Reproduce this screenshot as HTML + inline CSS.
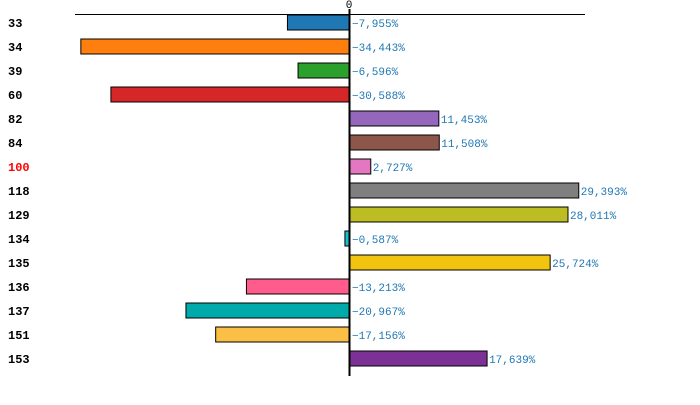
<!DOCTYPE html>
<html><head><meta charset="utf-8"><style>
body{margin:0;background:#fff;width:700px;height:405px;overflow:hidden}
svg{display:block}
.lab{font-family:"Liberation Mono",monospace;font-weight:bold;font-size:12px;fill:#000}
.val{font-family:"Liberation Mono",monospace;font-size:11px;fill:#1f77b4}
</style></head><body>
<svg id="chart" width="700" height="405">
<line x1="75" y1="14.5" x2="585" y2="14.5" stroke="#000"/>
<text x="349" y="8" text-anchor="middle" class="val" style="fill:#000">0</text>
<g id="bars"></g>
<line x1="349.5" y1="9" x2="349.5" y2="376" stroke="#000" stroke-width="2"/>
</svg>
<script>
const categories=["33","34","39","60","82","84","100","118","129","134","135","136","137","151","153"];
const values=[-7.955,-34.443,-6.596,-30.588,11.453,11.508,2.727,29.393,28.011,-0.587,25.724,-13.213,-20.967,-17.156,17.639];
const colors=["#1f77b4","#ff7f0e","#2ca02c","#d62728","#9467bd","#8c564b","#e377c2","#7f7f7f","#bcbd22","#17becf","#f1c40f","#ff5c8d","#00aaaa","#fbbf45","#7b3294"];
const x0=349.5,k=7.8;
const xs=v=>x0+v*k;
const ys=i=>15+24*i;
const g=document.getElementById('bars');
const NS="http://www.w3.org/2000/svg";
categories.forEach((c,i)=>{
  const v=values[i];
  const r=document.createElementNS(NS,'rect');
  const a=Math.min(xs(0),xs(v)),w=Math.abs(xs(v)-xs(0));
  r.setAttribute('x',a);r.setAttribute('y',ys(i));
  r.setAttribute('width',w);r.setAttribute('height',15);
  r.setAttribute('fill',colors[i]);r.setAttribute('stroke','#000');
  
  
  g.appendChild(r);
  const t=document.createElementNS(NS,'text');
  t.setAttribute('x',8);t.setAttribute('y',ys(i)+12);
  t.setAttribute('class','lab');
  if(c==="100")t.style.fill="#ff0000";
  t.textContent=c;
  
  
  g.appendChild(t);
  const l=document.createElementNS(NS,'text');
  l.setAttribute('x',v<0?352:xs(v)+2);l.setAttribute('y',ys(i)+12);
  l.setAttribute('class','val');
  l.textContent=v.toFixed(3).replace('.',',').replace('-','\u2212')+'%';
  
  
  g.appendChild(l);
});
</script>
</body></html>
